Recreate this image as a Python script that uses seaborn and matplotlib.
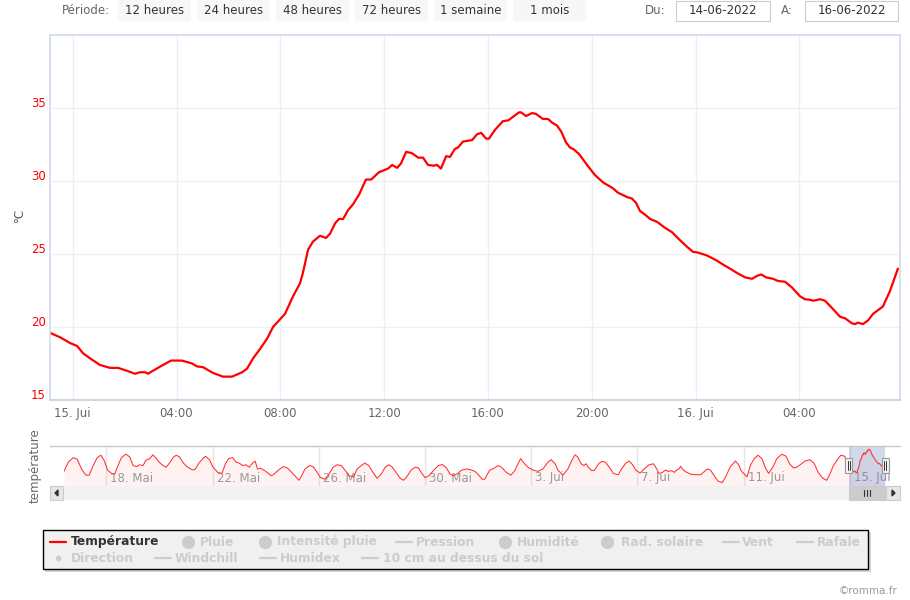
import matplotlib
matplotlib.use("Agg")
import matplotlib.pyplot as plt
import matplotlib.transforms as mtransforms
from matplotlib.patches import Rectangle, FancyBboxPatch, Polygon
from matplotlib.lines import Line2D
import pandas as pd
import seaborn as sns

sns.set_theme(style="white")
plt.rcParams["font.family"] = ["DejaVu Sans"]

# ---------------- data ----------------
# main window: hours since 15 June 2022 00:00
main_hours = [-0.875, -0.49, -0.10, 0.17, 0.40, 0.67, 1.05, 1.44, 1.75, 2.09,
              2.40, 2.59, 2.79, 2.90, 3.09, 3.48, 3.79, 4.21, 4.60, 4.79,
              5.02, 5.41, 5.79, 6.14, 6.53, 6.72, 6.95, 7.22, 7.49, 7.72,
              8.18, 8.49, 8.76, 8.87, 9.07, 9.26, 9.53, 9.76, 9.92, 10.11,
              10.26, 10.42, 10.61, 10.80, 11.03, 11.30, 11.50, 11.80, 12.15, 12.31,
              12.50, 12.65, 12.85, 13.08, 13.31, 13.50, 13.69, 13.92, 14.04, 14.19,
              14.39, 14.54, 14.73, 14.85, 15.04, 15.39, 15.58, 15.74, 15.93, 16.04,
              16.27, 16.58, 16.78, 16.97, 17.20, 17.28, 17.47, 17.70, 17.85, 18.12,
              18.32, 18.47, 18.66, 18.82, 19.01, 19.16, 19.32, 19.51, 19.82, 20.13,
              20.44, 20.82, 21.01, 21.36, 21.55, 21.71, 21.86, 22.05, 22.25, 22.52,
              22.82, 23.09, 23.40, 23.67, 23.90, 24.09, 24.44, 24.82, 25.13, 25.33,
              25.60, 25.91, 26.18, 26.37, 26.53, 26.72, 26.99, 27.18, 27.45, 27.72,
              28.03, 28.22, 28.45, 28.53, 28.80, 28.99, 29.26, 29.57, 29.76, 30.03,
              30.15, 30.26, 30.45, 30.65, 30.84, 31.03, 31.22, 31.49, 31.80]
main_temp = [19.6, 19.3, 18.9, 18.7, 18.2, 17.85, 17.4, 17.2, 17.2, 17.0,
             16.8, 16.9, 16.9, 16.8, 17.0, 17.4, 17.7, 17.7, 17.5, 17.3,
             17.25, 16.85, 16.6, 16.6, 16.9, 17.15, 17.85, 18.5, 19.2, 20.0,
             20.9, 22.1, 23.0, 23.7, 25.3, 25.85, 26.25, 26.1, 26.4, 27.1,
             27.4, 27.4, 28.0, 28.4, 29.05, 30.1, 30.1, 30.6, 30.85, 31.1,
             30.9, 31.2, 32.0, 31.9, 31.6, 31.6, 31.1, 31.05, 31.1, 30.85,
             31.7, 31.65, 32.2, 32.3, 32.7, 32.8, 33.2, 33.3, 32.9, 32.9,
             33.5, 34.1, 34.15, 34.4, 34.7, 34.7, 34.45, 34.65, 34.6, 34.25,
             34.25, 34.0, 33.8, 33.4, 32.65, 32.3, 32.15, 31.85, 31.1, 30.4,
             29.9, 29.5, 29.2, 28.9, 28.8, 28.5, 27.95, 27.7, 27.4, 27.2,
             26.8, 26.5, 25.95, 25.5, 25.15, 25.1, 24.9, 24.55, 24.2, 24.0,
             23.7, 23.4, 23.3, 23.5, 23.6, 23.4, 23.3, 23.15, 23.1, 22.7,
             22.1, 21.9, 21.85, 21.8, 21.9, 21.8, 21.3, 20.7, 20.6, 20.25,
             20.2, 20.3, 20.2, 20.45, 20.9, 21.15, 21.4, 22.45, 24.0]

# navigator (one month): days since 18 May 2022 00:00, up to 14 June evening
nav_days = [-1.60, -1.44, -1.25, -1.10, -0.94, -0.78, -0.65, -0.50, -0.35, -0.21,
            -0.09, 0.04, 0.19, 0.31, 0.41, 0.56, 0.73, 0.88, 1.00, 1.13,
            1.25, 1.38, 1.48, 1.63, 1.75, 1.88, 1.98, 2.13, 2.25, 2.40,
            2.53, 2.63, 2.75, 2.90, 3.06, 3.25, 3.35, 3.48, 3.63, 3.73,
            3.88, 4.00, 4.19, 4.35, 4.48, 4.60, 4.75, 4.88, 5.00, 5.13,
            5.25, 5.38, 5.50, 5.60, 5.69, 5.81, 6.00, 6.21, 6.31, 6.48,
            6.66, 6.81, 6.98, 7.13, 7.25, 7.35, 7.48, 7.65, 7.78, 7.91,
            8.06, 8.23, 8.38, 8.54, 8.69, 8.85, 9.00, 9.15, 9.31, 9.44,
            9.60, 9.73, 9.88, 10.04, 10.19, 10.35, 10.50, 10.63, 10.75, 10.91,
            11.06, 11.19, 11.31, 11.48, 11.63, 11.75, 11.88, 12.00, 12.15, 12.31,
            12.50, 12.65, 12.81, 12.94, 13.06, 13.23, 13.38, 13.56, 13.75, 13.88,
            14.00, 14.15, 14.25, 14.35, 14.44, 14.60, 14.75, 14.88, 15.06, 15.23,
            15.38, 15.50, 15.60, 15.75, 15.88, 16.06, 16.25, 16.44, 16.63, 16.75,
            16.90, 17.00, 17.19, 17.38, 17.53, 17.65, 17.75, 17.88, 17.98, 18.06,
            18.15, 18.28, 18.38, 18.54, 18.66, 18.79, 18.94, 19.10, 19.28, 19.40,
            19.56, 19.69, 19.81, 19.94, 20.10, 20.25, 20.44, 20.60, 20.69, 20.81,
            20.94, 21.06, 21.15, 21.28, 21.40, 21.48, 21.56, 21.63, 21.69, 21.81,
            22.00, 22.19, 22.38, 22.53, 22.63, 22.75, 22.90, 23.03, 23.19, 23.31,
            23.50, 23.69, 23.81, 23.90, 24.03, 24.13, 24.25, 24.40, 24.54, 24.69,
            24.81, 24.94, 25.10, 25.25, 25.44, 25.60, 25.73, 25.88, 26.00, 26.13,
            26.31, 26.50, 26.65, 26.81, 26.98, 27.13, 27.25, 27.38, 27.53, 27.66,
            27.81]
nav_temp = [17.45, 24.7, 28.2, 26.9, 19.3, 14.5, 14.5, 22.0, 28.2, 30.1,
            26.1, 18.5, 15.8, 15.3, 20.7, 28.2, 30.9, 28.75, 22.0, 21.2,
            22.6, 22.0, 26.1, 27.4, 30.4, 27.4, 24.7, 22.0, 20.7, 24.7,
            28.75, 30.1, 28.75, 23.9, 20.7, 18.5, 19.3, 23.9, 27.4, 29.3,
            26.6, 21.2, 16.65, 15.8, 23.4, 27.4, 28.2, 24.7, 23.9, 22.0,
            22.6, 20.7, 23.9, 25.5, 19.3, 19.9, 17.45, 13.95, 15.3, 18.5,
            21.2, 20.1, 16.65, 13.15, 10.45, 13.95, 19.3, 22.0, 21.2, 17.45,
            12.6, 11.3, 15.3, 20.7, 22.6, 22.0, 18.0, 13.95, 13.15, 19.3,
            22.0, 23.9, 22.0, 16.65, 12.1, 15.3, 20.7, 22.6, 21.2, 16.65,
            12.1, 10.45, 13.15, 18.5, 20.7, 20.1, 15.8, 12.6, 13.95, 18.0,
            22.0, 22.8, 20.1, 15.3, 13.95, 15.8, 18.5, 19.3, 18.5, 17.45,
            15.0, 11.3, 11.3, 15.3, 18.5, 19.9, 22.0, 20.7, 16.65, 14.5,
            18.0, 23.4, 27.4, 23.4, 20.7, 18.5, 17.45, 19.3, 24.7, 26.6,
            23.4, 18.5, 14.5, 19.3, 26.1, 30.4, 28.75, 23.4, 22.0, 23.4,
            20.7, 18.0, 18.5, 23.4, 25.3, 24.7, 20.7, 15.8, 14.8, 19.3,
            23.9, 25.5, 22.8, 18.5, 16.1, 19.3, 22.6, 23.4, 20.7, 15.8,
            16.65, 18.5, 17.45, 18.0, 16.65, 18.5, 19.3, 21.5, 19.3, 17.2,
            15.3, 14.8, 14.8, 17.45, 19.3, 18.5, 13.95, 9.9, 8.6, 12.6,
            21.2, 25.5, 22.8, 18.0, 15.3, 13.15, 22.0, 27.4, 30.1, 27.4,
            20.7, 15.8, 20.7, 27.4, 30.9, 29.3, 23.4, 20.1, 20.7, 22.6,
            25.5, 26.6, 23.9, 16.65, 12.1, 10.45, 15.3, 22.0, 26.6, 30.1,
            29.3]

main_tick_hours = [0, 4, 8, 12, 16, 20, 24, 28]
main_tick_labels = ["15. Jui", "04:00", "08:00", "12:00", "16:00", "20:00", "16. Jui", "04:00"]
y_ticks = [15, 20, 25, 30, 35]
nav_tick_days = [0, 4, 8, 12, 16, 20, 24, 28]
nav_tick_labels = ["18. Mai", "22. Mai", "26. Mai", "30. Mai", "3. Jui", "7. Jui", "11. Jui", "15. Jui"]
period_buttons = ["12 heures", "24 heures", "48 heures", "72 heures", "1 semaine", "1 mois"]
date_from, date_to = "14-06-2022", "16-06-2022"
legend_labels = ["Température", "Pluie", "Intensité pluie", "Pression", "Humidité",
                 "Rad. solaire", "Vent", "Rafale",
                 "Direction", "Windchill", "Humidex", "10 cm au dessus du sol"]
legend_kinds = ["line", "circle", "circle", "line", "circle", "circle", "line", "line",
                "dot", "line", "line", "line"]
legend_visible = [True] + [False] * 11

# ---------------- layout ----------------
W, H = 910, 600
fig = plt.figure(figsize=(W / 100, H / 100), dpi=100)
fig.patch.set_facecolor("white")


def fx(x):
    return x / W


def fy(y):
    return 1 - y / H


def rect(x0, y0, x1, y1, rounded=False, **kw):
    if rounded:
        p = FancyBboxPatch((fx(x0), fy(y1)), (x1 - x0) / W, (y1 - y0) / H,
                           boxstyle="round,pad=0,rounding_size=0.003",
                           transform=fig.transFigure, **kw)
    else:
        p = Rectangle((fx(x0), fy(y1)), (x1 - x0) / W, (y1 - y0) / H,
                      transform=fig.transFigure, **kw)
    fig.add_artist(p)
    return p


def seg(x0, y0, x1, y1, **kw):
    fig.add_artist(Line2D([fx(x0), fx(x1)], [fy(y0), fy(y1)], transform=fig.transFigure, **kw))


FS = 8.5
# ---- top range selector ----
fig.text(fx(62), fy(10), "Période:", fontsize=FS, color="#666666", ha="left", va="center")
for i, lab in enumerate(period_buttons):
    x0 = 118 + i * 79
    rect(x0, 0, x0 + 73, 21, rounded=True, facecolor="#f7f7f7", edgecolor="none")
    fig.text(fx(x0 + 36.5), fy(10), lab, fontsize=FS, color="#333333", ha="center", va="center")
fig.text(fx(645), fy(10), "Du:", fontsize=FS, color="#666666", ha="left", va="center")
rect(676, 1, 770, 21, facecolor="white", edgecolor="#cccccc", lw=0.8)
fig.text(fx(723), fy(11), date_from, fontsize=FS, color="#333333", ha="center", va="center")
fig.text(fx(781), fy(10), "A:", fontsize=FS, color="#666666", ha="left", va="center")
rect(805, 1, 898, 21, facecolor="white", edgecolor="#cccccc", lw=0.8)
fig.text(fx(851.5), fy(11), date_to, fontsize=FS, color="#333333", ha="center", va="center")

# ---- main chart ----
ax = fig.add_axes([fx(50), fy(400), 850 / W, 365 / H])
df_main = pd.DataFrame({"hour": main_hours, "temp": main_temp})
sns.lineplot(data=df_main, x="hour", y="temp", ax=ax, color="#ff0000", lw=1.6,
             sort=False, estimator=None)
ax.set_xlim(-0.875, 31.88)
ax.set_ylim(15, 40)
ax.set_xlabel("")
ax.set_ylabel("")
ax.set_yticks(y_ticks)
ax.set_yticklabels([str(v) for v in y_ticks])
ax.set_xticks(main_tick_hours)
ax.set_xticklabels(main_tick_labels)
ax.grid(True, axis="y", color="#f0f0f0", lw=1)
ax.grid(True, axis="x", color="#eaeef6", lw=1)
ax.set_axisbelow(True)
for s in ax.spines.values():
    s.set_color("#d0dcea")
    s.set_linewidth(1.2)
ax.spines["bottom"].set_color("#c0d0e0")
ax.tick_params(axis="x", length=7, width=1, color="#c0d0e0", direction="out",
               labelcolor="#666666", labelsize=FS, pad=-2)
ax.tick_params(axis="y", length=0, labelcolor="#ff0000", labelsize=FS, pad=3)
yoff = mtransforms.ScaledTranslation(0, 0.06, fig.dpi_scale_trans)
for t in ax.yaxis.get_major_ticks():
    t.label1.set_transform(t.label1.get_transform() + yoff)
fig.text(fx(19), fy(215), "°C", rotation=90, fontsize=FS, color="#555555",
         ha="center", va="center")

# ---- navigator ----
all_days = nav_days + [28 + h / 24 for h in main_hours]
all_temp = nav_temp + main_temp
df_nav = pd.DataFrame({"day": all_days, "temp": all_temp})
nav = fig.add_axes([fx(64), fy(486), (885 - 64) / W, 40 / H])
nav.set_facecolor("none")
tmin, tmax = min(all_temp), max(all_temp)
pad = 0.1 * (tmax - tmin)
nav.set_ylim(tmin - pad, tmax + pad)
nav.set_xlim(all_days[0], all_days[-1])
nav.fill_between(df_nav["day"], df_nav["temp"], tmin - pad, color="#ff0000", alpha=0.05, lw=0)
sns.lineplot(data=df_nav, x="day", y="temp", ax=nav, color="#ff3030", lw=0.75,
             sort=False, estimator=None)
nav.set_xlabel("")
nav.set_ylabel("")
nav.set_yticks([])
nav.set_xticks(nav_tick_days)
nav.set_xticklabels([])
nav.tick_params(axis="x", length=0)
nav.grid(True, axis="x", color="#e6e6e6", lw=1)
nav.set_axisbelow(True)
for s in nav.spines.values():
    s.set_visible(False)
lab_tr = mtransforms.blended_transform_factory(nav.transData, nav.transAxes) + \
    mtransforms.ScaledTranslation(0.04, 0, fig.dpi_scale_trans)
for d, lab in zip(nav_tick_days, nav_tick_labels):
    nav.text(d, 0.2, lab, transform=lab_tr, fontsize=FS, color="#999999",
             ha="left", va="center", zorder=1)
sel0, sel1 = all_days[len(nav_days)], all_days[-1]
nav.axvspan(sel0, sel1, color=(102 / 255, 133 / 255, 194 / 255), alpha=0.3, lw=0)
seg(50, 446, 900, 446, color="#c8c8c8", lw=1)
fig.text(fx(35), fy(466), "température", rotation=90, fontsize=FS, color="#666666",
         ha="center", va="center")

# pixel x of selection edges
fig.canvas.draw()
px0 = nav.transData.transform((sel0, 0))[0]
px1 = nav.transData.transform((sel1, 0))[0]

# ---- scrollbar ----
rect(50, 486, 900, 500, facecolor="#f2f2f2", edgecolor="none")
rect(px0, 486, px1, 500, facecolor="#cccccc", edgecolor="#cccccc", lw=0.8)
xc = (px0 + px1) / 2
for dx in (-3, 0, 3):
    seg(xc + dx, 490, xc + dx, 496, color="#333333", lw=0.8)
rect(50, 486, 63, 500, facecolor="#e6e6e6", edgecolor="#cccccc", lw=0.8)
rect(886, 486, 900, 500, facecolor="#e6e6e6", edgecolor="#cccccc", lw=0.8)
fig.add_artist(Polygon([(fx(55), fy(493)), (fx(58), fy(490)), (fx(58), fy(496))],
                       closed=True, transform=fig.transFigure, color="#333333"))
fig.add_artist(Polygon([(fx(895), fy(493)), (fx(892), fy(490)), (fx(892), fy(496))],
                       closed=True, transform=fig.transFigure, color="#333333"))

# navigator handles
for px in (px0, px1):
    rect(px - 3.5, 458, px + 3.5, 473, facecolor="#f2f2f2", edgecolor="#999999", lw=0.8)
    seg(px - 1, 461, px - 1, 470, color="#333333", lw=0.7)
    seg(px + 1, 461, px + 1, 470, color="#333333", lw=0.7)

# ---- legend ----
rect(45, 532, 871, 572, facecolor="#bbbbbb", edgecolor="none", alpha=0.6)
rect(43, 530, 868, 569, facecolor="#f0f0f0", edgecolor="#000000", lw=1)
legend_icon_x = [50, 188, 265, 396, 505, 607, 723, 797, 58, 155, 260, 362]
legend_text_x = [71, 200, 277, 416, 517, 621, 742, 817, 71, 175, 280, 383]
legend_row_y = [542] * 8 + [558] * 4
for lab, kind, vis, ix, tx, ry in zip(legend_labels, legend_kinds, legend_visible,
                                      legend_icon_x, legend_text_x, legend_row_y):
    col = "#ff0000" if vis else "#cccccc"
    if kind == "line":
        seg(ix, ry, ix + 16, ry, color=col, lw=1.6)
    elif kind == "circle":
        fig.add_artist(Line2D([fx(ix)], [fy(ry)], marker="o", markersize=8.5, color=col,
                              lw=0, transform=fig.transFigure))
    else:
        fig.add_artist(Line2D([fx(ix)], [fy(ry)], marker="o", markersize=3, color=col,
                              lw=0, transform=fig.transFigure))
    fig.text(fx(tx), fy(ry), lab, fontsize=8.8, fontweight="bold",
             color="#333333" if vis else "#cccccc", ha="left", va="center")

fig.text(fx(898), fy(591), "©romma.fr", fontsize=7.5, color="#999999", ha="right", va="center")

fig.savefig("out.png", dpi=100, facecolor="white")
